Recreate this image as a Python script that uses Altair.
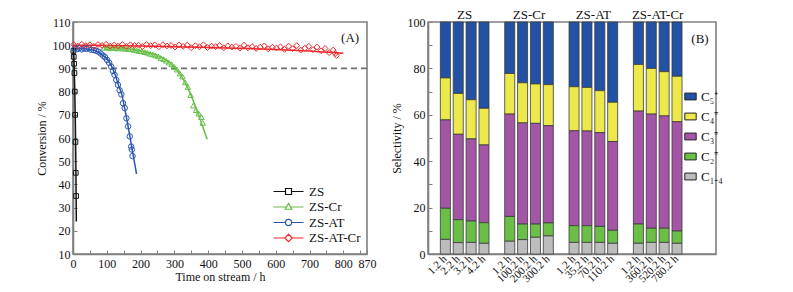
import altair as alt
import pandas as pd

FONT = "Liberation Serif"

# ---------------- Panel (A): conversion vs time on stream ----------------
series_names = ["ZS", "ZS-Cr", "ZS-AT", "ZS-AT-Cr"]
series_colors = ["#111111", "#66BE48", "#2A56B0", "#F2262A"]
series_shapes = ["square", "triangle-up", "circle", "diamond"]
series_sizes = [22, 30, 30, 34]

# measured points
zs_t = [1.2, 2.2, 3.2, 4.2, 5.2, 6.2, 7.2, 8.2, 9.2]
zs_v = [97.5, 95.0, 92.0, 88.0, 80.0, 70.0, 58.3, 45.0, 35.0]

zscr_t = [92, 100, 108, 116, 124, 132, 140, 148, 156, 164, 172, 180, 188, 196, 204, 212, 220,
          228, 236, 244, 252, 260, 268, 276, 284, 292, 300, 308, 316, 324, 332, 340, 348, 356,
          364, 372, 380, 384]
zscr_v = [98.9, 99.1, 98.7, 99.0, 98.8, 98.6, 99.0, 98.5, 98.7, 98.3, 98.4, 98.0, 97.8, 97.5,
          97.4, 97.0, 96.8, 96.3, 96.0, 95.6, 95.2, 94.5, 94.0, 93.3, 92.5, 91.8, 90.6, 89.5,
          87.8, 86.5, 84.0, 82.0, 78.5, 74.0, 72.0, 70.5, 69.0, 66.5]

zsat_t = [5, 12, 19, 26, 33, 40, 47, 54, 61, 68, 75, 82, 89, 95, 101, 107, 113, 118, 123, 128,
          133, 138, 143, 148, 153, 158, 163, 168, 172, 174, 176]
zsat_v = [98.6, 98.3, 98.8, 98.2, 98.6, 98.4, 98.7, 98.0, 97.9, 97.6, 97.2, 96.4, 95.5, 94.8,
          93.6, 92.4, 90.8, 88.9, 87.2, 85.0, 82.9, 80.6, 78.8, 75.0, 72.9, 68.5, 65.0, 60.7,
          56.3, 55.0, 52.2]

zsatcr_t = [2, 14, 26, 38, 50, 62, 74, 86, 98, 110, 122, 134, 146, 158, 170, 182, 194, 206, 218,
            230, 242, 254, 266, 278, 290, 302, 314, 326, 338, 350, 362, 374, 386, 398, 410, 422,
            434, 446, 458, 470, 482, 494, 506, 518, 530, 542, 554, 566, 578, 590, 602, 614, 626,
            638, 650, 662, 674, 686, 698, 710, 722, 734, 746, 758, 770, 776, 780]
zsatcr_v = [100.3, 99.6, 100.4, 99.8, 100.2, 99.5, 100.3, 99.9, 100.4, 99.6, 100.1, 99.7, 100.3,
            99.5, 100.2, 99.9, 100.0, 99.4, 100.3, 99.8, 100.1, 99.3, 100.2, 99.7, 99.9, 99.2,
            100.1, 99.5, 100.0, 98.9, 99.8, 99.3, 100.2, 99.0, 99.6, 99.4, 99.9, 98.8, 99.7,
            99.2, 99.5, 98.7, 100.0, 98.9, 99.4, 98.6, 99.2, 99.7, 98.4, 99.1, 98.8, 99.3, 98.2,
            99.6, 98.5, 99.8, 97.9, 98.7, 99.5, 98.1, 99.2, 97.6, 98.6, 96.8, 97.9, 96.4, 95.6]

# fitted curves
zs_fit_t = [0.8, 3.0, 5.0, 7.0, 8.5, 9.8]
zs_fit_v = [99.0, 93.0, 82.0, 66.0, 48.0, 24.0]
zscr_fit_t = [90, 150, 200, 250, 280, 300, 320, 340, 360, 380, 397]
zscr_fit_v = [99.0, 98.7, 97.5, 95.5, 93.2, 90.5, 86.8, 81.5, 74.5, 66.5, 59.5]
zsat_fit_t = [0, 30, 50, 70, 90, 102, 114, 124, 134, 144, 152, 160, 169, 176, 188]
zsat_fit_v = [98.6, 98.5, 98.2, 97.4, 95.4, 94.0, 91.0, 87.6, 83.0, 79.0, 73.5, 67.5, 60.2, 54.2, 44.5]
zsatcr_fit_t = [0, 200, 400, 600, 700, 800]
zsatcr_fit_v = [100.0, 99.7, 99.0, 98.2, 97.5, 96.5]

x_ticks_A = [0, 50, 100, 150, 200, 250, 300, 350, 400, 450, 500, 550, 600, 650, 700, 750, 800, 850, 870]
y_ticks_A = [10, 20, 30, 40, 50, 60, 70, 80, 90, 100, 110]

pts_t = [zs_t, zscr_t, zsat_t, zsatcr_t]
pts_v = [zs_v, zscr_v, zsat_v, zsatcr_v]
fit_t = [zs_fit_t, zscr_fit_t, zsat_fit_t, zsatcr_fit_t]
fit_v = [zs_fit_v, zscr_fit_v, zsat_fit_v, zsatcr_fit_v]

pts_df = pd.DataFrame([
    {"series": s, "t": t, "v": v}
    for s, ts, vs in zip(series_names, pts_t, pts_v) for t, v in zip(ts, vs)
])
fit_df = pd.DataFrame([
    {"series": s, "t": t, "v": v}
    for s, ts, vs in zip(series_names, fit_t, fit_v) for t, v in zip(ts, vs)
])

# ---------------- Panel (B): selectivity bars ----------------
groups = ["ZS", "ZS-Cr", "ZS-AT", "ZS-AT-Cr"]
bar_labels = [
    ["1.2 h", "2.2 h", "3.2 h", "4.2 h"],
    ["1.2 h", "100.2 h", "200.2 h", "300.2 h"],
    ["1.2 h", "35.2 h", "70.2 h", "110.2 h"],
    ["1.2 h", "360.2 h", "520.2 h", "780.2 h"],
]
comp_names = ["C\u2085\u207a", "C\u2084\u207c", "C\u2083\u207c", "C\u2082\u207c", "C\u2081\u208b\u2084"]
comp_colors = ["#2352A5", "#EDE84C", "#A456A6", "#6BBF47", "#BDBDBD"]
# values per component (bottom component C1-4 first in stacking)
c14 = [6.3, 4.9, 5.0, 4.6, 5.5, 6.2, 7.2, 7.8, 5.0, 5.0, 5.0, 4.6, 4.6, 5.0, 5.0, 4.6]
c2 = [13.4, 9.9, 9.2, 8.9, 10.7, 6.7, 5.7, 5.6, 7.2, 7.2, 6.9, 5.6, 8.3, 6.1, 6.1, 5.3]
c3 = [38.1, 36.8, 35.4, 33.5, 44.1, 43.6, 43.4, 41.9, 40.9, 40.8, 40.4, 38.3, 48.7, 49.2, 48.4, 47.1]
c4 = [18.1, 17.6, 16.9, 15.8, 17.5, 17.3, 17.0, 17.7, 19.0, 18.8, 18.1, 16.9, 20.1, 19.7, 19.1, 19.6]
c5 = [24.1, 30.8, 33.5, 37.2, 22.2, 26.2, 26.7, 27.0, 27.9, 28.2, 29.6, 34.6, 18.3, 20.0, 21.4, 23.4]

keys = [f"{g}|{lab}" for g, labs in zip(groups, bar_labels) for lab in labs]
comp_values = [c5, c4, c3, c2, c14]
stack_order = [4, 3, 2, 1, 0]

rows = []
for ci, (cname, vals) in enumerate(zip(comp_names, comp_values)):
    for k, v in zip(keys, vals):
        rows.append({"key": k, "comp": cname, "value": v, "ord": stack_order[ci]})
bar_df = pd.DataFrame(rows)

x_domain_B = (keys[0:4] + ["s1|"] + keys[4:8] + ["s2|"] + keys[8:12] + ["s3|"]
              + keys[12:16] + ["s4|", "s5|"])
group_df = pd.DataFrame({"group": groups, "key": [keys[1], keys[5], keys[9], keys[13]]})

GRAY = "#808080"
inward = {"expr": "-4"}

# ---------------- build panel A ----------------
xA = alt.X("t:Q", scale=alt.Scale(domain=[0, 870], nice=False, zero=False),
           axis=alt.Axis(values=x_ticks_A, title="Time on stream / h",
                         labelExpr="(datum.value % 100 == 0 || datum.value == 870) ? datum.label : ''",
                         labelFlush=False, labelOverlap=False, tickSize=inward, labelPadding=8,
                         titlePadding=2))
yA = alt.Y("v:Q", scale=alt.Scale(domain=[10, 110], nice=False, zero=False),
           axis=alt.Axis(values=y_ticks_A, title="Conversion / %", tickSize=inward,
                         labelPadding=7, titlePadding=4))

# legend glyphs: a line segment with the marker drawn in its middle
legend_paths = [
    "M-3,0H-0.6M0.6,0H3M-0.6,-0.6H0.6V0.6H-0.6Z",
    "M-3,0H-0.4M0.4,0H3M0,-0.72L0.66,0.45H-0.66Z",
    "M-3,0H-0.64M0.64,0H3M0.64,0A0.64,0.64 0 1,1 -0.64,0A0.64,0.64 0 1,1 0.64,0",
    "M-3,0H-0.75M0.75,0H3M0,-0.75L0.75,0L0,0.75L-0.75,0Z",
]
legA = alt.Legend(title=None, orient="none", legendX=209, legendY=163, symbolSize=100,
                  symbolStrokeWidth=1.2, labelFontSize=13, labelFont=FONT, labelOffset=14,
                  rowPadding=1.5, padding=0)

rule = alt.Chart(pd.DataFrame({"v": [90]})).mark_rule(
    color="#6f6f6f", strokeDash=[6, 4], strokeWidth=1.6).encode(y=yA)

line_layers = []
point_layers = []
for s, c, shp, sz in zip(series_names, series_colors, series_shapes, series_sizes):
    line_layers.append(
        alt.Chart(fit_df).transform_filter(alt.datum.series == s).mark_line(
            strokeWidth=1.5, interpolate="monotone", color=c
        ).encode(x=xA, y=yA)
    )
    point_layers.append(
        alt.Chart(pts_df).transform_filter(alt.datum.series == s).mark_point(
            shape=shp, filled=False, color=c, size=sz, strokeWidth=1, opacity=1
        ).encode(x=xA, y=yA)
    )

legend_layer = alt.Chart(pd.DataFrame({"series": series_names, "t": [-100] * 4, "v": [0] * 4})).mark_point(
    filled=False, strokeWidth=1.2, opacity=1, clip=True
).encode(
    x=xA, y=yA,
    color=alt.Color("series:N", scale=alt.Scale(domain=series_names, range=series_colors), legend=legA),
    shape=alt.Shape("series:N", scale=alt.Scale(domain=series_names, range=legend_paths), legend=legA),
)
labelA = alt.Chart(pd.DataFrame({"t": [820], "v": [103.3], "s": ["(A)"]})).mark_text(
    font=FONT, fontSize=13, color="#111111").encode(x=xA, y=yA, text="s:N")

left = alt.layer(rule, *line_layers, *point_layers, legend_layer, labelA).properties(width=294, height=232)

# ---------------- build panel B ----------------
scaleB = alt.Scale(domain=x_domain_B, paddingInner=0.22, paddingOuter=0.8, align=0.6)
xB = alt.X("key:N", sort=None, scale=scaleB,
           axis=alt.Axis(title=None, labelExpr="substring(datum.value, indexof(datum.value, '|') + 1)",
                         labelAngle=-45, labelAlign="right", labelBaseline="middle", ticks=False,
                         labelFontSize=11, labelPadding=3))
yB = alt.Y("value:Q", stack="zero", scale=alt.Scale(domain=[0, 100], nice=False),
           axis=alt.Axis(values=list(range(0, 101, 10)), title="Selectivity / %",
                         labelExpr="datum.value % 20 == 0 ? datum.label : ''", tickSize=inward,
                         labelPadding=7, titlePadding=4))
legB = alt.Legend(title=None, orient="none", legendX=256, legendY=68,
                  symbolType="M-1,-0.6H1V0.6H-1Z", symbolSize=130, symbolStrokeColor="#222222",
                  symbolStrokeWidth=1, labelFontSize=13, labelFont=FONT, labelOffset=4,
                  rowPadding=6, padding=0)

bars = alt.Chart(bar_df).mark_bar(stroke="#3a3a3a", strokeWidth=0.8).encode(
    x=xB, y=yB,
    color=alt.Color("comp:N", scale=alt.Scale(domain=comp_names, range=comp_colors), legend=legB),
    order=alt.Order("ord:Q", sort="ascending"),
)
group_text = alt.Chart(group_df).mark_text(
    font=FONT, fontSize=13, color="#111111", dx=6.4, baseline="middle"
).encode(x=alt.X("key:N", scale=scaleB, sort=None), y=alt.value(-7), text="group:N")
labelB = alt.Chart(pd.DataFrame({"s": ["(B)"]})).mark_text(
    font=FONT, fontSize=13, color="#111111").encode(x=alt.value(272), y=alt.value(17), text="s:N")

right = alt.layer(bars, group_text, labelB).properties(width=288, height=232)

chart = alt.hconcat(left, right, spacing=61, bounds="flush").resolve_scale(
    color="independent", shape="independent"
).properties(
    padding={"left": 26, "top": 0, "right": 5, "bottom": 5}
).configure_view(
    stroke=GRAY, strokeWidth=1.6
).configure_axis(
    grid=False, domainColor=GRAY, domainWidth=1.6, tickColor=GRAY, tickWidth=1,
    labelFont=FONT, titleFont=FONT, labelFontSize=12, titleFontSize=12,
    titleFontWeight="normal", labelColor="#111111", titleColor="#111111"
).configure_legend(
    labelFont=FONT, labelColor="#111111"
).configure_text(font=FONT)

chart.save("out.html", embed_options={"renderer": "svg", "actions": False})
